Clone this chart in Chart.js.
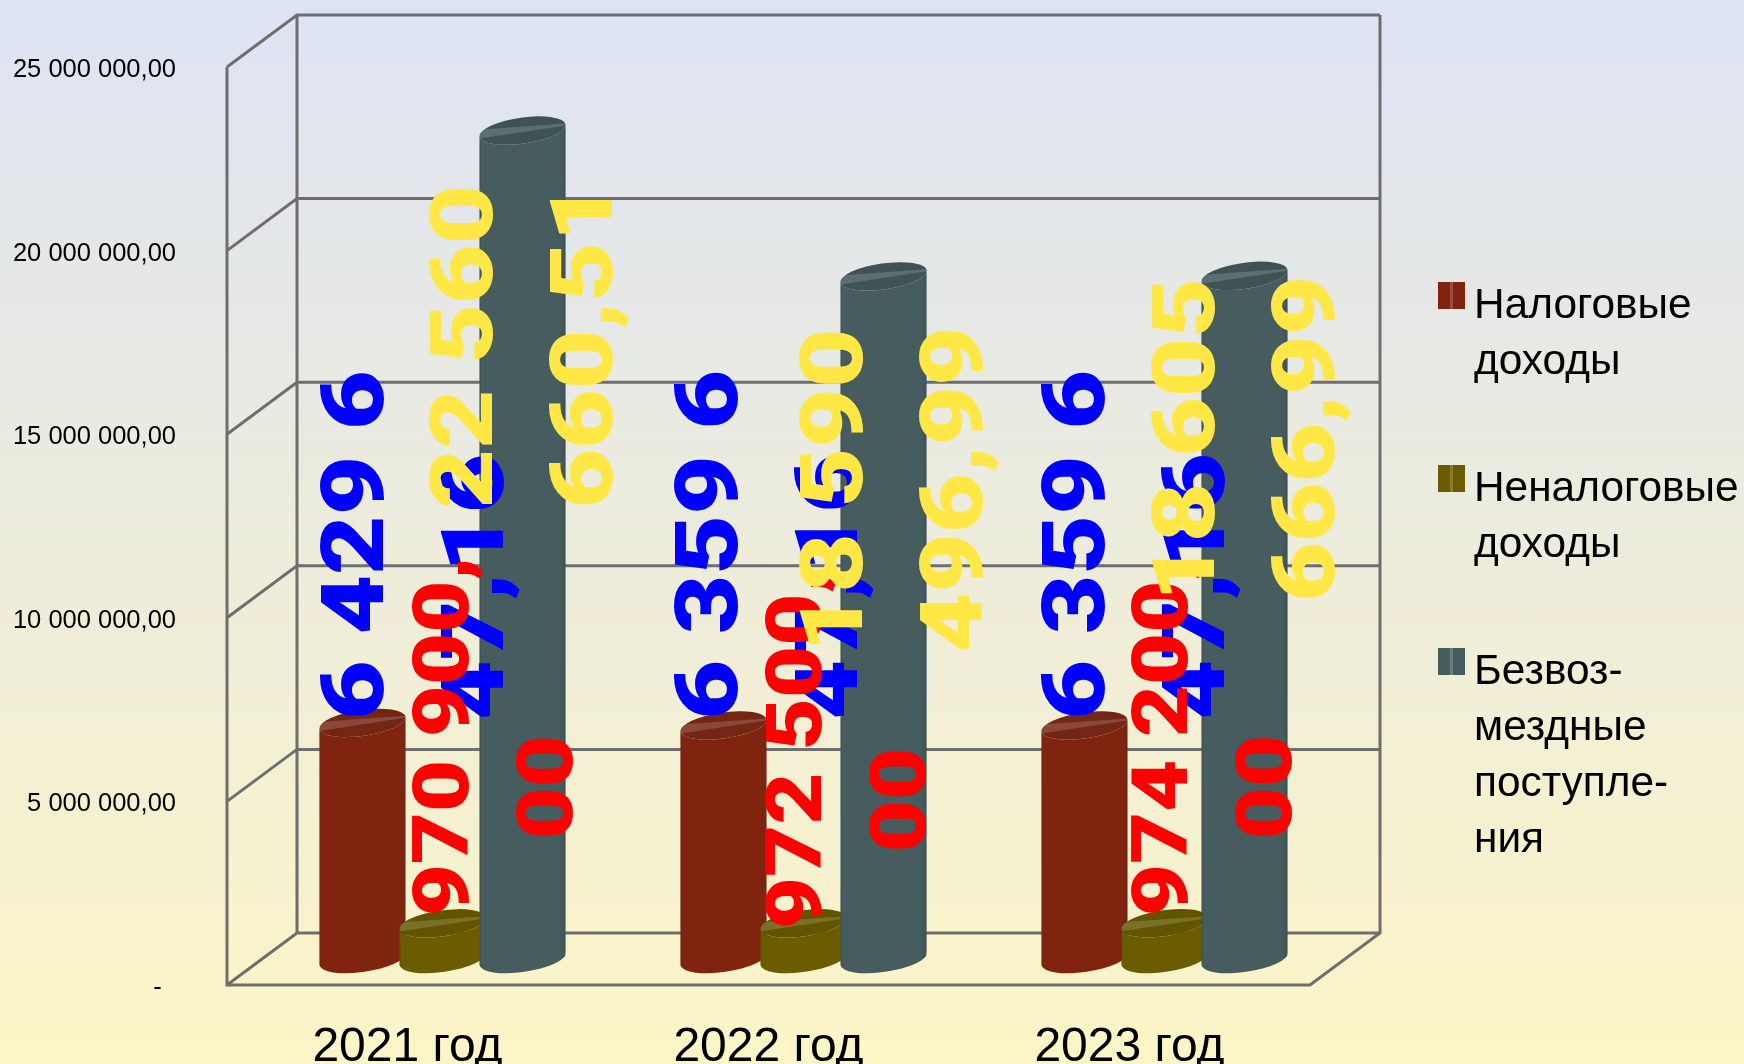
<!DOCTYPE html>
<html lang="ru">

<head>
  <meta charset="UTF-8" />
  <title>Доходы бюджета</title>
  <script src="https://cdn.jsdelivr.net/npm/chart.js"></script>
  <style>
    html, body { margin: 0; height: 100%; }
    body { background: linear-gradient(to bottom, #dde3f3 0%, #fcf5c6 100%); overflow: hidden; }
    canvas { display: block; }
  </style>
</head>

<body>
  <canvas id="grafico" width="1744" height="1064"></canvas>

  <script>
    const years = ['2021 год', '2022 год', '2023 год'];

    const taxIncome = [6429647.16, 6359647.16, 6359647.16];
    const nonTaxIncome = [970900, 972500, 974200];
    const grants = [22560660.51, 18590496.99, 18605666.99];

    const taxLegend = ['Налоговые', 'доходы'];
    const nonTaxLegend = ['Неналоговые', 'доходы'];
    const grantsLegend = ['Безвоз-', 'мездные', 'поступле-', 'ния'];

    const taxText = [['6 429 6', '47,16'], ['6 359 6', '47,16'], ['6 359 6', '47,16']];
    const nonTaxText = [['970 900,', '00'], ['972 500,', '00'], ['974 200,', '00']];
    const grantsText = [['22 560', '660,51'], ['18 590', '496,99'], ['18 605', '666,99']];

    // сдвиг подписи от верха столбца [dx, dy]
    const taxShift = [[-11, -3], [-18, -6], [-12, -6]];
    const nonTaxShift = [[-2, -7], [-10, 6], [-5, -7]];
    const grantsShift = [[-62, 378], [-53, 376], [-62, 326]];

    const DEPTH_X = 70;
    const DEPTH_Y = -52;
    const TILT = -8 * Math.PI / 180;
    const LINE = '#6e6e6e';

    function drawWalls(chart) {
      const ctx = chart.ctx;
      const y = chart.scales.y;
      const a = chart.chartArea;
      const bottom = y.getPixelForValue(0);
      const top = y.getPixelForValue(25000000);

      ctx.save();
      ctx.strokeStyle = LINE;
      ctx.lineWidth = 3;
      ctx.beginPath();
      y.ticks.forEach(t => {
        const py = y.getPixelForValue(t.value);
        ctx.moveTo(a.left, py);
        ctx.lineTo(a.left + DEPTH_X, py + DEPTH_Y);
        ctx.lineTo(a.right + DEPTH_X, py + DEPTH_Y);
      });
      ctx.moveTo(a.left, top);
      ctx.lineTo(a.left, bottom);
      ctx.lineTo(a.right, bottom);
      ctx.lineTo(a.right + DEPTH_X, bottom + DEPTH_Y);
      ctx.lineTo(a.right + DEPTH_X, top + DEPTH_Y);
      ctx.moveTo(a.left + DEPTH_X, top + DEPTH_Y);
      ctx.lineTo(a.left + DEPTH_X, bottom + DEPTH_Y);
      ctx.stroke();
      ctx.restore();
    }

    function drawCylinder(ctx, bar, color, shade) {
      const cx = bar.x + DEPTH_X / 2;
      const topY = bar.y + DEPTH_Y / 2;
      const baseY = bar.base + DEPTH_Y / 2;
      const rx = bar.width / 2;
      const ry = 13;
      const ex = rx * Math.cos(TILT);
      const ey = rx * Math.sin(TILT);

      const g = ctx.createLinearGradient(cx - ex, 0, cx + ex, 0);
      g.addColorStop(0, shade);
      g.addColorStop(0.03, color);
      g.addColorStop(0.93, color);
      g.addColorStop(1, shade);

      ctx.save();
      ctx.fillStyle = g;
      ctx.beginPath();
      ctx.moveTo(cx - ex, topY - ey);
      ctx.lineTo(cx - ex, baseY - ey);
      ctx.ellipse(cx, baseY, rx, ry, TILT, Math.PI, 0, true);
      ctx.lineTo(cx + ex, topY + ey);
      ctx.ellipse(cx, topY, rx, ry, TILT, 0, Math.PI, false);
      ctx.closePath();
      ctx.fill();

      // верхняя крышка с бликом
      ctx.translate(cx, topY);
      ctx.rotate(TILT);
      ctx.beginPath();
      ctx.ellipse(0, 0, rx, ry, 0, 0, Math.PI * 2);
      ctx.fillStyle = shade;
      ctx.fill();
      ctx.clip();
      ctx.fillStyle = 'rgba(255,255,255,0.16)';
      ctx.beginPath();
      ctx.moveTo(-rx, -7);
      ctx.lineTo(rx, -1);
      ctx.lineTo(rx, 1);
      ctx.lineTo(-rx, 2);
      ctx.closePath();
      ctx.fill();
      ctx.restore();
    }

    function drawValueText(ctx, text, x, y, size, color) {
      ctx.save();
      ctx.translate(x, y);
      ctx.rotate(-Math.PI / 2);
      ctx.scale(1.17, 1);
      ctx.font = '900 ' + size + 'px Roboto';
      ctx.fillStyle = color;
      ctx.textAlign = 'left';
      ctx.textBaseline = 'alphabetic';
      ctx.fillText(text, 0, size * 0.358);
      ctx.restore();
    }

    function drawLegend(chart) {
      const ctx = chart.ctx;
      chart.data.datasets.forEach((ds, i) => {
        const top = 282 + i * 183;
        ctx.fillStyle = ds.backgroundColor;
        ctx.fillRect(1438, top, 27, 27);
        ctx.fillStyle = 'rgba(255,255,255,0.2)';
        ctx.fillRect(1450, top, 3, 27);
        ctx.fillStyle = '#000';
        ctx.font = '42.4px "Liberation Sans"';
        ctx.textAlign = 'left';
        ctx.textBaseline = 'alphabetic';
        ds.label.forEach((line, n) => ctx.fillText(line, 1474, top + 36 + n * 56));
      });
    }

    const cylinders = {
      id: 'cylinders',
      beforeDatasetsDraw(chart) {
        const ctx = chart.ctx;
        drawWalls(chart);

        chart.data.datasets.forEach((ds, i) => {
          chart.getDatasetMeta(i).data.forEach(bar => drawCylinder(ctx, bar, ds.backgroundColor, ds.shade));
        });

        chart.data.datasets.forEach((ds, i) => {
          chart.getDatasetMeta(i).data.forEach((bar, n) => {
            const x = bar.x + DEPTH_X / 2 + ds.shift[n][0];
            const y = bar.y + DEPTH_Y / 2 + ds.shift[n][1];
            drawValueText(ctx, ds.text[n][0], x, y, ds.textSize, ds.textColor);
            drawValueText(ctx, ds.text[n][1], x + ds.linePitch, y + ds.lineDrop, ds.textSize, ds.textColor);
          });
        });

        drawLegend(chart);
        return false;
      }
    };

    new Chart(document.getElementById('grafico'), {
      type: 'bar',
      plugins: [cylinders],
      data: {
        labels: years,
        datasets: [
          {
            label: taxLegend, data: taxIncome, backgroundColor: '#80240f', shade: '#742614',
            text: taxText, shift: taxShift, textSize: 88, textColor: '#0000ff', linePitch: 120, lineDrop: 0
          },
          {
            label: nonTaxLegend, data: nonTaxIncome, backgroundColor: '#6b5c00', shade: '#625500',
            text: nonTaxText, shift: nonTaxShift, textSize: 77, textColor: '#ff0000', linePitch: 104, lineDrop: -77
          },
          {
            label: grantsLegend, data: grants, backgroundColor: '#475c5e', shade: '#3f5355',
            text: grantsText, shift: grantsShift, textSize: 88, textColor: '#ffe845', linePitch: 120, lineDrop: 0
          }
        ]
      },
      options: {
        responsive: false,
        animation: false,
        categoryPercentage: 0.665,
        barPercentage: 1.087,
        layout: { padding: { top: 67, right: 434, left: 0, bottom: 0 } },
        plugins: { legend: { display: false }, tooltip: { enabled: false } },
        scales: {
          x: {
            afterFit(s) { s.height = 79; },
            grid: { display: false },
            border: { display: false },
            ticks: { color: '#000', padding: 26, maxRotation: 0, font: { family: 'Liberation Sans', size: 48 } }
          },
          y: {
            min: 0,
            max: 25000000,
            afterFit(s) { s.width = 227; },
            grid: { display: false },
            border: { display: false },
            ticks: {
              stepSize: 5000000,
              color: '#000',
              padding: 43,
              labelOffset: 3,
              font: { family: 'Liberation Sans', size: 25.5 },
              callback(v) {
                if (v === 0) return '-  ';
                return String(v).replace(/\B(?=(\d{3})+$)/g, ' ') + ',00';
              }
            }
          }
        }
      }
    });
  </script>
</body>

</html>
